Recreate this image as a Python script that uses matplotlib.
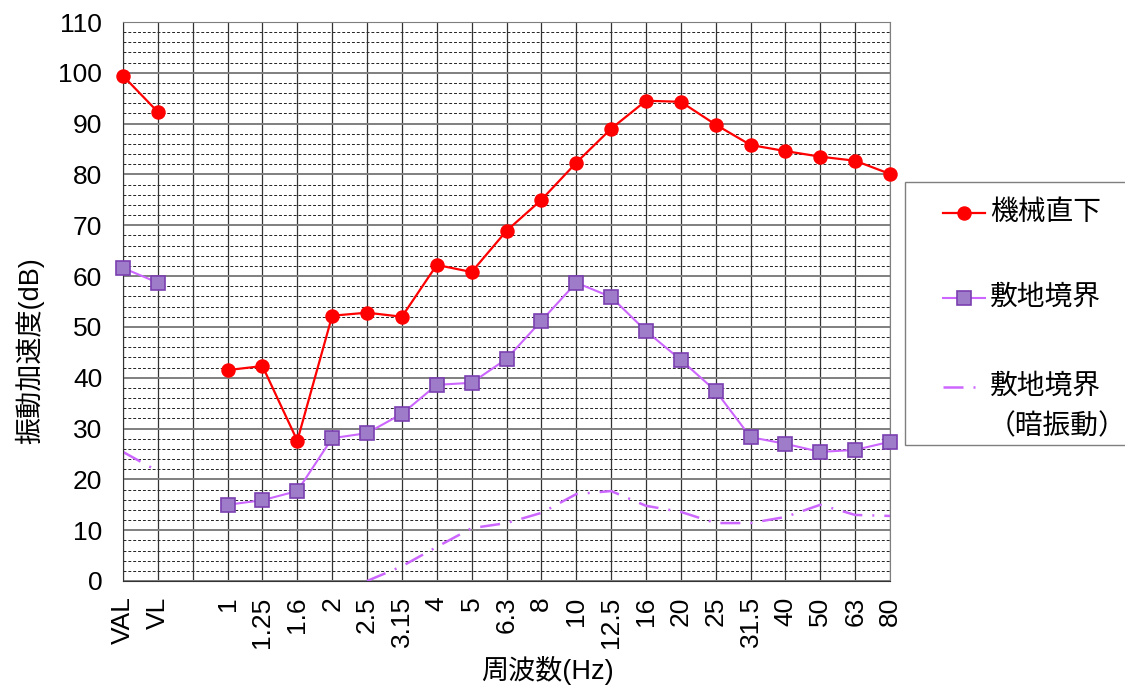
import numpy as np
import matplotlib
matplotlib.use("Agg")
import matplotlib.pyplot as plt
from matplotlib.lines import Line2D
from matplotlib.patches import Rectangle

plt.rcParams['font.family'] = ['Liberation Sans', 'Noto Sans CJK JP', 'DejaVu Sans']

categories = ["VAL", "VL", "", "1", "1.25", "1.6", "2", "2.5", "3.15", "4", "5", "6.3",
              "8", "10", "12.5", "16", "20", "25", "31.5", "40", "50", "63", "80"]
nan = np.nan
machine = [99.4, 92.3, nan, 41.5, 42.3, 27.6, 52.2, 52.8, 52.0, 62.2, 60.8, 68.9,
           75.0, 82.3, 89.0, 94.5, 94.3, 89.8, 85.8, 84.6, 83.5, 82.7, 80.1]
boundary = [61.6, 58.7, nan, 15.0, 15.9, 17.7, 28.1, 29.1, 32.9, 38.6, 39.0, 43.7,
            51.2, 58.7, 55.9, 49.2, 43.5, 37.4, 28.3, 27.0, 25.4, 25.8, 27.4]
background = [25.4, 21.6, nan, nan, nan, nan, nan, 0.0, 2.9, 6.7, 10.4, 11.4,
              13.4, 17.1, 17.7, 14.8, 13.6, 11.4, 11.4, 12.6, 15.0, 13.0, 12.8]
labels = ["機械直下", "敷地境界", "敷地境界", "（暗振動）"]

W, H = 1125, 687
fig = plt.figure(figsize=(W / 100, H / 100), dpi=100)
ax = fig.add_axes([123/W, 1-581/H, (890-123)/W, (581-22)/H])

x = np.arange(len(categories))

# grid
for xi in x:
    ax.axvline(xi, color="#333333", lw=0.9, zorder=0.5)
for yv in np.arange(0, 111, 2):
    if yv % 10 == 0:
        ax.axhline(yv, color="#7f7f7f", lw=1.4, zorder=0.6)
    else:
        ax.axhline(yv, color="#222222", lw=0.7, ls=(0, (3, 2)), zorder=0.4)

red_style = dict(color="#FF0000", lw=1.6, marker="o", ms=9.4, mfc="#FF0000", mec="#FF0000")
pur_style = dict(color="#CC66FF", lw=1.5, marker="s", ms=9.8, mfc="#9E7CC9", mec="#7A3FB0", mew=1.2)
bg_style = dict(color="#CC66FF", lw=1.8, ls=(0, (8, 4, 0.8, 4)))

ax.plot(x, machine, clip_on=False, zorder=4, **red_style)
ax.plot(x, boundary, clip_on=False, zorder=3, **pur_style)
ax.plot(x, background, zorder=2, **bg_style)

ax.set_xlim(0, len(categories) - 1)
ax.set_ylim(0, 110)
ax.set_yticks(np.arange(0, 111, 10))
ax.set_xticks(x)
ax.set_xticklabels(categories, rotation=90, fontsize=19)
ax.tick_params(axis="y", labelsize=19, length=0, pad=15)
ax.tick_params(axis="x", length=0, pad=11)
for s in ["top", "right"]:
    ax.spines[s].set_color("#7f7f7f")
for s in ["left", "bottom"]:
    ax.spines[s].set_color("#333333")

fig.text(30/W, 1-351/H, "振動加速度(dB)", rotation=90, ha="center", va="center", fontsize=19.5)
fig.text(547/W, 1-685/H, "周波数(Hz)", ha="center", va="bottom", fontsize=19.5)

# legend box (manual layout to match the reference)
def fx(px):
    return px / W

def fy(py):
    return 1 - py / H

fig.add_artist(Rectangle((fx(905), fy(445)), fx(1135) - fx(905), fy(182) - fy(445),
                         transform=fig.transFigure, fill=True, facecolor="white",
                         edgecolor="#7f7f7f", lw=1.0, clip_on=False, zorder=5))
rows = [(213, red_style, labels[0]), (298, pur_style, labels[1]), (387, bg_style, labels[2])]
for py, st, lab in rows:
    fig.add_artist(Line2D([fx(943), fx(985)], [fy(py), fy(py)], transform=fig.transFigure,
                          markevery=[], zorder=6, **st))
    if "marker" in st:
        fig.add_artist(Line2D([fx(964)], [fy(py)], transform=fig.transFigure,
                              zorder=7, **{k: v for k, v in st.items() if k not in ("lw",)}))
    fig.text(fx(990), fy(py), lab, ha="left", va="center", fontsize=20, zorder=7)
fig.text(fx(988), fy(427), labels[3], ha="left", va="center", fontsize=20, zorder=7)

fig.savefig("out.png", dpi=100)
